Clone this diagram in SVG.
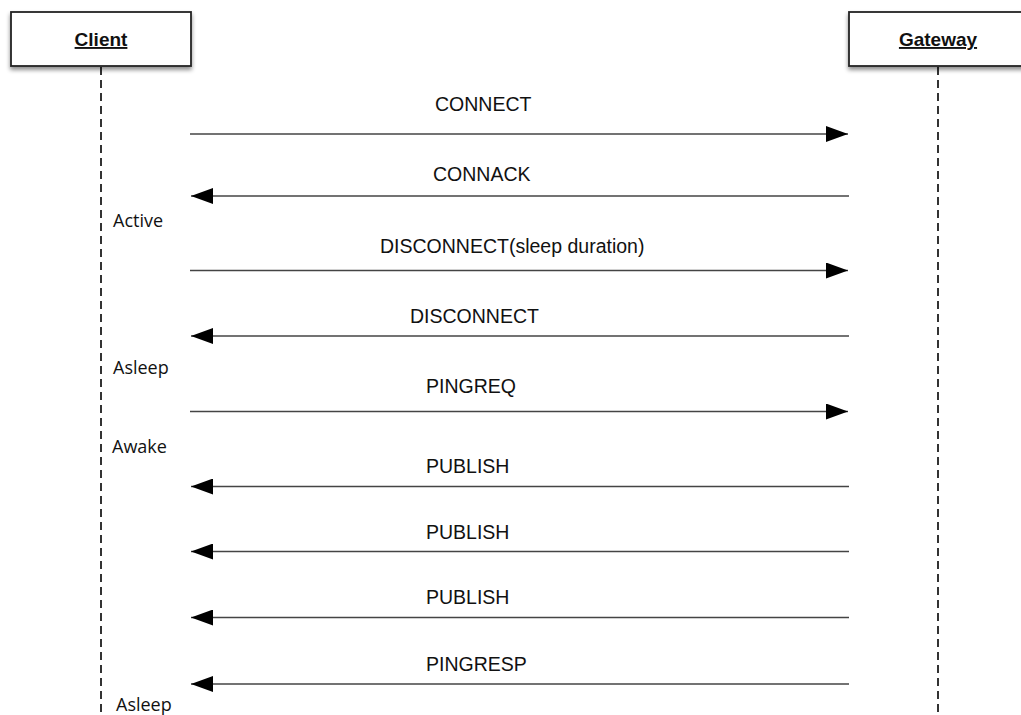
<svg xmlns="http://www.w3.org/2000/svg" width="1021" height="715" viewBox="0 0 1021 715">
  <style>
    .box { fill: #ffffff; stroke: #222222; stroke-width: 1.8; }
    .title { font-family: "Liberation Sans", Arial, sans-serif; font-size: 19px; font-weight: bold; fill: #111111; text-anchor: middle; text-decoration: underline; }
    .life { stroke: #333333; stroke-width: 2; stroke-dasharray: 8 5; fill: none; }
    .msg { stroke: #444444; stroke-width: 1.6; fill: none; }
    .lbl { font-family: "Liberation Sans", Arial, sans-serif; font-size: 19.5px; fill: #111111; }
    .state { font-family: "Open Sans", "Noto Sans", sans-serif; font-size: 18px; fill: #111111; }
  </style>
  <defs>
    <filter id="shadow" x="-10%" y="-20%" width="120%" height="160%">
      <feDropShadow dx="0" dy="3" stdDeviation="2" flood-color="#000000" flood-opacity="0.45"/>
    </filter>
    <marker id="head" viewBox="0 0 22 16" refX="22" refY="8" markerWidth="22" markerHeight="16" markerUnits="userSpaceOnUse" orient="auto">
      <path d="M0,0 L22,8 L0,16 Z" fill="#000000"/>
    </marker>
  </defs>
  <rect width="1021" height="715" fill="#ffffff"/>

  <!-- lifelines -->
  <g id="lifelines">
    <line class="life" x1="101" y1="67" x2="101" y2="715"/>
    <line class="life" x1="938" y1="67" x2="938" y2="715"/>
  </g>

  <g id="client">
    <rect class="box" x="11" y="12" width="180" height="54" filter="url(#shadow)"/>
    <text class="title" x="101" y="46">Client</text>
  </g>

  <g id="gateway">
    <rect class="box" x="849" y="12" width="180" height="54" filter="url(#shadow)"/>
    <text class="title" x="938" y="46">Gateway</text>
  </g>

  <!-- messages -->
  <g id="connectors">
    <line class="msg" x1="190" y1="134" x2="848" y2="134" marker-end="url(#head)"/>
    <line class="msg" x1="849" y1="196" x2="191" y2="196" marker-end="url(#head)"/>
    <line class="msg" x1="190" y1="270.5" x2="848" y2="270.5" marker-end="url(#head)"/>
    <line class="msg" x1="849" y1="336" x2="191" y2="336" marker-end="url(#head)"/>
    <line class="msg" x1="190" y1="411.5" x2="848" y2="411.5" marker-end="url(#head)"/>
    <line class="msg" x1="849" y1="486.5" x2="191" y2="486.5" marker-end="url(#head)"/>
    <line class="msg" x1="849" y1="551.5" x2="191" y2="551.5" marker-end="url(#head)"/>
    <line class="msg" x1="849" y1="617.5" x2="191" y2="617.5" marker-end="url(#head)"/>
    <line class="msg" x1="849" y1="684" x2="191" y2="684" marker-end="url(#head)"/>
  </g>

  <g id="labels">
    <text class="lbl" x="435" y="111">CONNECT</text>
    <text class="lbl" x="433" y="181">CONNACK</text>
    <text class="lbl" x="380" y="252.5">DISCONNECT(sleep duration)</text>
    <text class="lbl" x="410" y="322.5">DISCONNECT</text>
    <text class="lbl" x="426" y="393">PINGREQ</text>
    <text class="lbl" x="426" y="473">PUBLISH</text>
    <text class="lbl" x="426" y="539">PUBLISH</text>
    <text class="lbl" x="426" y="604">PUBLISH</text>
    <text class="lbl" x="426" y="670.5">PINGRESP</text>
  </g>

  <g id="states">
    <text class="state" x="113" y="226.5">Active</text>
    <text class="state" x="113" y="374">Asleep</text>
    <text class="state" x="112" y="453">Awake</text>
    <text class="state" x="116" y="711">Asleep</text>
  </g>
</svg>
